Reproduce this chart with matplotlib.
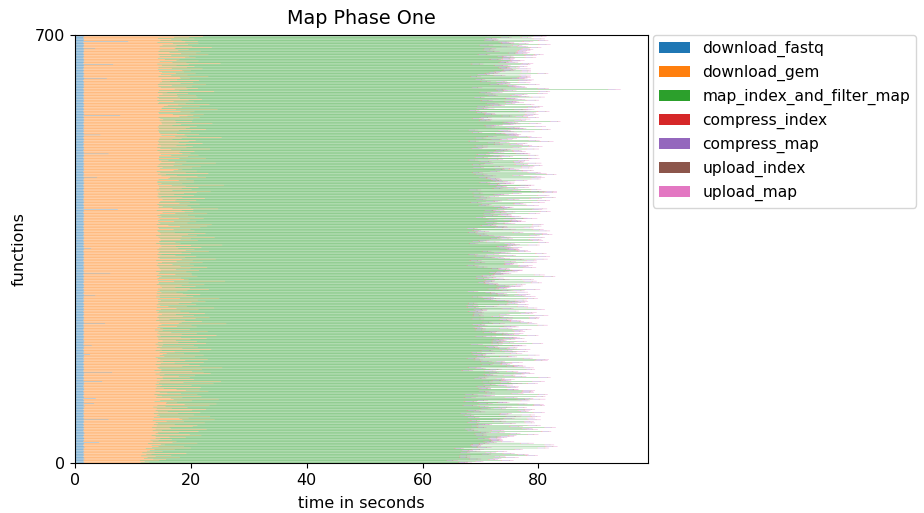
import numpy as np
import matplotlib
matplotlib.use("Agg")
import matplotlib.pyplot as plt

plt.rcParams["font.size"] = 11.5

stages = ["download_fastq", "download_gem", "map_index_and_filter_map",
          "compress_index", "compress_map", "upload_index", "upload_map"]
stage_colors = ["tab:blue", "tab:orange", "tab:green", "tab:red",
                "tab:purple", "tab:brown", "tab:pink"]

# Per-function stage durations in tenths of a second (function 0 first).
download_fastq = [
    15,16,15,14,16,15,17,15,16,15,14,15,16,15,15,16,14,15,16,15,
    15,14,16,15,15,17,15,16,14,15,15,16,15,42,15,14,16,15,15,16,
    16,15,15,14,15,16,15,15,17,15,16,15,14,15,16,15,15,16,15,14,
    15,16,15,15,14,16,15,15,16,15,15,58,15,16,14,15,15,16,15,15,
    14,15,16,15,15,16,15,14,15,16,15,15,17,15,15,16,14,33,15,16,
    15,15,16,14,15,36,15,16,15,15,14,15,16,15,15,16,15,14,15,16,
    16,15,15,16,15,14,15,15,16,15,15,16,15,47,14,16,15,15,16,15,
    15,14,15,16,15,15,16,15,64,15,14,15,16,15,15,16,15,15,14,15,
    15,16,15,15,14,16,15,15,16,15,15,14,16,15,15,16,15,26,16,14,
    15,15,16,15,15,14,15,16,15,15,16,15,29,15,14,16,15,15,16,15,
    16,15,14,15,16,15,15,16,15,15,14,15,16,15,15,16,15,14,15,15,
    15,16,15,15,16,14,15,15,52,15,16,15,15,14,15,16,15,15,16,15,
    14,15,16,15,15,16,15,14,15,16,15,15,16,15,14,15,16,15,15,16,
    15,15,14,16,15,15,16,15,15,14,16,15,15,35,15,16,15,14,15,16,
    16,15,15,16,15,14,15,16,15,15,16,15,15,14,15,16,15,15,16,15,
    15,14,16,15,15,16,15,15,14,15,61,15,16,15,15,14,16,15,15,16,
    15,16,15,14,15,16,15,15,16,15,15,14,15,16,15,15,16,15,14,15,
    16,15,15,16,15,15,14,15,16,15,28,15,15,16,15,14,15,16,15,15,
    15,15,16,15,14,15,16,15,15,16,15,15,14,16,15,15,16,15,15,14,
    15,16,15,15,16,15,14,15,15,16,15,15,16,15,14,15,16,15,15,16,
    14,15,15,16,15,15,16,15,15,14,15,16,15,15,74,15,15,16,15,15,
    15,16,15,14,15,16,15,15,16,15,15,14,15,16,15,15,16,15,14,15,
    16,15,15,16,15,15,14,15,16,15,15,16,15,15,14,15,16,15,15,16,
    15,14,16,15,15,16,15,38,15,14,16,15,15,16,15,15,14,15,16,15,
    15,16,15,15,14,15,16,15,15,16,15,15,14,16,15,15,16,15,15,14,
    16,15,15,16,15,58,15,15,16,15,14,15,16,15,15,16,15,15,14,15,
    15,15,16,15,14,15,16,15,15,16,15,15,14,15,16,15,44,15,15,16,
    14,15,16,15,15,16,15,14,15,16,15,15,16,15,14,15,16,15,15,16,
    15,16,15,15,16,15,15,14,78,15,16,15,15,16,15,14,15,15,16,15,
    15,14,15,16,15,15,16,15,15,14,15,16,15,15,16,15,15,14,16,15,
    16,15,15,14,15,16,15,15,16,15,15,15,14,15,16,15,15,16,15,15,
    15,15,16,15,15,14,16,15,55,16,15,15,14,15,16,15,15,16,15,14,
    15,16,15,15,14,15,16,15,15,16,15,66,15,14,15,16,15,15,16,15,
    16,15,14,15,16,15,15,16,15,15,14,15,16,15,15,16,15,35,15,14,
    15,15,16,15,15,16,15,14,15,92,15,15,16,15,15,14,15,16,15,15,
]

download_gem = [
    98,112,105,131,96,142,118,104,165,110,125,99,150,108,117,176,102,122,135,109,
    114,158,121,107,185,116,129,172,118,140,133,110,196,126,119,161,128,115,152,123,
    131,176,148,125,203,116,183,129,122,164,127,198,120,135,211,124,150,147,118,189,
    126,195,121,157,129,208,124,173,142,119,226,127,165,180,122,131,218,125,190,129,
    164,121,200,128,145,123,187,212,126,151,179,120,139,217,127,173,230,124,143,160,
    122,187,131,156,233,129,170,124,203,135,128,196,121,168,144,130,215,125,176,199,
    159,138,124,201,132,127,186,135,123,224,130,171,126,205,133,148,190,137,125,183,
    136,165,192,130,139,124,218,131,158,187,135,122,203,134,129,238,127,170,132,200,
    124,181,133,157,208,136,126,175,131,214,128,167,123,192,139,130,207,125,172,144,
    131,157,199,135,124,221,132,169,126,197,134,129,176,137,125,210,163,128,194,136,
    158,184,130,212,127,168,133,125,229,131,170,195,126,151,129,213,136,124,183,132,
    137,126,195,161,128,187,134,246,127,169,130,204,125,176,148,129,193,217,126,171,
    130,190,158,135,209,126,182,131,167,124,198,133,159,225,127,178,145,132,126,193,
    164,129,187,127,210,133,196,128,166,235,130,125,189,157,131,200,126,172,134,159,
    126,179,131,215,128,184,135,157,193,132,168,126,208,130,181,129,156,244,127,173,
    181,128,167,130,196,133,126,187,159,129,140,131,176,125,199,134,158,184,131,212,
    129,166,190,127,153,182,128,205,134,160,188,126,169,227,131,175,127,194,132,158,
    133,127,185,168,129,216,132,176,126,191,150,130,203,158,134,186,239,131,167,125,
    158,131,129,197,134,167,184,132,226,128,169,195,126,179,133,210,130,157,128,192,
    127,183,155,130,200,128,167,213,146,125,221,132,178,129,195,156,127,183,131,206,
    165,129,192,133,127,180,131,213,158,137,174,188,126,169,130,232,153,128,185,136,
    130,178,127,201,165,129,183,132,157,194,136,161,209,128,170,134,126,190,157,129,
    172,128,195,131,219,153,127,186,168,130,198,129,176,152,243,128,169,134,127,189,
    127,191,163,129,177,145,211,126,196,135,160,142,128,214,176,132,127,195,154,170,
    163,130,187,136,128,202,154,129,170,131,228,157,178,133,146,130,128,211,165,131,
    129,180,151,197,133,127,184,165,130,191,128,167,150,218,132,176,127,188,134,160,
    176,128,204,130,165,181,127,193,153,129,169,131,239,158,177,134,145,199,132,160,
    131,185,129,164,128,210,176,131,183,127,195,153,129,168,136,222,158,134,187,130,
    158,136,189,132,199,129,165,180,126,207,153,130,184,128,167,192,131,159,230,134,
    135,170,138,199,145,163,216,128,176,131,190,154,127,181,203,130,166,128,195,162,
    129,194,161,137,180,143,128,225,164,130,179,157,198,133,176,129,187,151,211,128,
    167,131,188,149,135,200,160,134,127,182,166,129,216,151,178,133,193,158,135,174,
    130,169,185,128,206,152,177,129,191,134,160,130,127,237,153,176,131,198,159,140,
    164,128,176,193,130,182,151,214,129,168,195,148,128,202,163,130,181,137,159,222,
    131,187,159,136,180,153,198,128,175,120,132,169,150,191,128,183,156,205,130,168,
]

map_index_and_filter_map = [
    548,536,571,590,529,556,545,603,561,538,585,549,612,640,570,546,592,528,577,553,
    539,586,547,532,598,561,541,624,550,655,536,571,557,543,601,530,575,589,548,556,
    567,538,553,594,529,560,582,545,612,537,556,591,543,568,551,534,605,647,561,546,
    543,570,557,531,596,552,538,587,563,548,540,535,559,583,542,597,553,530,566,588,
    556,529,574,545,608,537,562,549,581,533,570,596,541,558,527,603,520,539,575,552,
    534,567,548,592,540,611,556,531,577,545,563,588,536,570,549,624,542,558,581,530,
    571,543,560,535,597,552,528,583,566,540,609,547,561,537,590,555,533,574,548,602,
    545,579,532,563,551,618,538,569,540,542,557,530,560,566,547,520,536,559,611,541,
    562,537,588,549,530,575,558,603,541,567,533,592,554,540,578,546,560,535,563,550,
    538,569,547,584,561,532,599,545,572,536,557,614,549,531,580,563,541,593,552,568,
    553,540,577,531,606,556,543,568,535,591,560,547,582,538,571,529,604,552,566,544,
    580,546,535,563,549,597,537,520,541,585,557,532,610,548,569,539,576,551,594,533,
    542,588,558,537,545,546,580,533,566,551,582,540,561,540,535,570,547,529,589,556,
    567,534,551,603,540,578,548,563,531,530,556,545,571,537,612,549,575,541,559,586,
    536,561,590,547,569,532,582,554,540,607,545,573,538,562,591,551,534,515,565,543,
    574,550,538,566,597,543,561,590,548,579,535,569,552,588,541,604,557,533,572,546,
    549,583,561,535,572,545,598,553,539,566,575,541,575,550,584,532,562,591,544,570,
    561,537,594,548,579,534,556,571,603,542,565,588,537,553,580,546,527,599,559,540,
    627,563,541,577,548,601,536,569,552,586,540,574,558,611,545,567,532,583,550,595,
    544,590,567,532,558,581,547,560,539,571,553,593,536,564,548,579,609,541,566,552,
    578,548,535,602,563,541,587,555,532,572,550,598,566,538,583,545,560,593,534,570,
    551,584,559,543,576,537,590,562,549,589,541,571,560,554,625,566,545,592,558,578,
    566,543,597,665,552,587,539,585,561,575,546,582,535,600,520,571,544,589,556,536,
    583,555,540,572,594,548,567,533,575,557,579,656,546,565,590,538,575,552,601,563,
    547,592,568,536,580,553,621,541,573,559,538,586,564,549,604,533,570,557,590,545,
    572,539,556,570,545,584,560,532,577,550,612,543,568,545,537,563,553,580,541,596,
    558,580,541,567,553,606,536,575,549,589,562,544,530,537,571,600,554,539,578,565,
    540,571,593,552,536,578,559,615,545,566,583,538,574,555,598,547,569,589,618,551,
    585,549,563,538,565,556,580,542,570,555,537,562,577,548,615,559,535,582,530,544,
    553,596,541,574,560,537,545,566,551,609,544,571,558,583,539,597,562,547,576,590,
    567,542,582,556,603,539,575,560,548,594,726,553,586,537,568,610,545,579,557,572,
    546,589,560,535,577,551,598,542,570,564,583,538,540,556,573,547,590,533,565,581,
    579,553,571,596,544,566,537,603,559,585,548,572,541,520,563,552,588,539,576,560,
    556,595,547,568,583,540,609,562,551,577,538,600,566,545,586,558,573,534,597,549,
    588,561,579,547,604,567,553,593,541,560,559,615,546,584,565,537,598,570,552,582,
]

compress_index = [
    2,1,2,2,1,3,2,1,2,2,1,2,3,2,1,2,2,1,2,2,
    1,2,2,3,1,2,1,2,2,1,3,2,2,1,2,2,1,2,3,1,
    2,2,1,2,3,1,2,2,1,2,2,3,1,2,2,1,2,1,2,3,
    1,2,3,2,1,2,2,1,2,3,2,1,2,2,1,2,3,2,1,2,
    2,1,2,1,2,3,2,2,1,2,1,2,2,3,2,1,2,2,1,2,
    3,2,1,2,2,1,2,3,2,1,2,2,1,2,3,2,2,1,2,1,
    2,2,3,1,2,2,1,2,2,3,1,2,2,1,2,2,3,2,1,2,
    1,2,2,2,3,1,2,1,2,2,2,3,1,2,2,1,2,2,3,2,
    2,3,1,2,2,1,2,2,3,1,2,2,1,2,2,3,1,2,2,1,
    2,1,2,3,2,2,1,2,1,2,3,2,2,1,2,1,2,3,2,2,
    1,2,2,1,2,3,2,1,2,2,1,2,3,2,2,1,2,2,1,3,
    2,2,1,2,3,2,1,2,2,1,2,2,3,1,2,2,1,2,2,3,
    3,1,2,2,1,2,2,3,2,1,2,1,2,2,3,2,1,2,2,1,
    2,2,3,2,1,2,2,1,2,3,2,2,1,2,1,2,3,2,1,2,
    1,2,2,1,2,2,3,2,1,2,2,1,2,3,2,1,2,2,2,1,
    2,3,2,1,2,1,2,2,3,2,1,2,2,1,2,3,2,1,2,2,
    2,1,2,2,3,2,1,2,2,1,2,3,2,2,1,2,2,1,3,2,
    1,2,3,2,1,2,2,3,1,2,2,1,2,2,3,1,2,2,1,2,
    2,2,1,2,2,3,1,2,2,2,1,2,3,2,1,2,2,3,2,1,
    3,2,2,1,2,1,2,2,3,1,2,2,1,2,2,3,2,1,2,2,
    2,1,2,3,2,2,1,2,1,2,3,2,1,2,2,1,2,2,3,2,
    1,2,2,1,3,2,2,1,2,2,1,2,3,2,2,1,2,3,1,2,
    2,2,3,2,1,2,1,2,2,3,2,1,2,2,1,2,3,2,2,1,
    2,1,2,2,2,3,2,1,2,1,2,2,3,1,2,2,1,2,2,3,
    1,3,2,1,2,2,1,2,3,2,2,1,2,2,1,3,2,2,1,2,
    2,2,1,2,3,1,2,2,1,2,3,2,1,2,2,2,1,2,3,2,
    3,2,2,1,2,2,3,1,2,2,1,2,2,3,2,1,2,1,2,2,
    2,1,2,2,1,2,2,3,2,1,2,3,2,1,2,2,3,2,1,2,
    1,2,3,2,2,1,2,2,1,3,2,2,1,2,3,2,1,2,2,1,
    2,2,1,2,3,2,1,2,2,1,2,2,3,2,1,2,2,1,3,2,
    2,3,2,1,2,2,1,3,2,2,1,2,2,1,2,3,2,2,1,2,
    1,2,2,3,1,2,2,1,2,2,3,2,1,2,2,1,2,3,2,2,
    2,2,1,2,2,3,2,2,1,2,2,1,3,2,2,1,2,2,1,3,
    3,1,2,2,1,2,3,2,2,1,2,2,1,2,3,2,2,1,2,2,
    2,2,2,1,3,2,1,2,2,3,1,2,2,2,1,2,3,1,2,2,
]

compress_map = [
    8,10,7,12,9,6,11,8,13,9,7,10,12,8,9,11,6,10,8,12,
    9,7,11,8,10,13,7,9,12,8,10,6,11,9,14,8,10,7,12,9,
    11,8,9,13,7,10,8,12,9,11,6,10,8,13,9,7,11,10,8,12,
    7,12,10,8,11,9,14,8,10,7,12,9,11,8,10,13,7,9,12,8,
    10,8,13,9,7,11,8,10,12,9,8,11,7,10,14,9,8,12,10,7,
    12,9,8,11,10,7,13,9,8,12,10,8,11,9,7,12,10,8,13,9,
    8,11,9,7,12,10,8,13,9,11,7,10,9,12,8,11,10,7,9,13,
    9,10,12,8,7,11,9,10,13,8,12,9,7,11,10,8,12,9,11,7,
    11,7,9,12,10,8,11,9,7,13,10,8,12,9,11,7,10,13,8,10,
    7,12,10,9,13,8,10,11,9,7,12,10,8,11,9,12,7,10,9,11,
    10,9,7,11,8,12,10,7,13,9,11,8,10,12,9,7,11,9,13,8,
    12,8,11,10,9,7,12,9,10,11,8,13,9,7,10,12,8,11,9,10,
    8,13,9,7,11,10,8,12,9,10,7,11,13,8,10,9,12,8,10,11,
    10,7,12,9,8,13,10,9,11,8,12,7,10,9,11,13,8,10,7,12,
    9,11,8,13,10,7,9,12,8,11,10,9,7,12,10,8,11,13,9,7,
    13,9,10,8,12,9,11,7,10,12,9,8,11,10,7,12,9,10,8,11,
    8,10,12,9,7,11,10,13,8,9,11,10,7,12,9,8,10,11,13,9,
    11,8,9,12,10,8,7,11,12,9,10,13,8,9,11,7,12,10,9,8,
    9,12,10,7,11,13,9,8,10,12,7,9,11,8,10,12,9,7,11,10,
    7,10,11,9,8,12,10,9,13,7,11,10,8,12,9,10,7,13,9,11,
    12,9,8,10,13,7,11,9,10,8,12,9,11,7,10,13,9,8,12,10,
    10,11,9,12,8,10,9,13,7,11,10,8,12,9,11,7,10,12,8,9,
    8,9,13,10,11,7,12,8,10,9,13,11,8,10,7,12,9,11,10,8,
    11,12,8,9,10,13,8,11,7,12,9,10,11,8,13,9,10,7,12,9,
    9,8,10,12,7,11,9,10,12,8,11,7,10,13,9,8,12,10,9,11,
    10,13,9,8,11,9,12,7,10,11,8,12,9,10,11,8,7,13,10,9,
    12,7,11,10,9,12,8,10,13,9,7,11,10,8,12,9,11,10,7,13,
    8,11,10,12,9,8,13,9,11,7,10,12,8,11,9,10,12,7,11,9,
    11,10,7,9,12,10,9,11,8,12,10,9,13,7,11,10,8,12,9,10,
    9,12,11,8,10,13,7,12,9,10,8,11,9,12,10,7,13,9,11,8,
    10,8,12,11,7,9,12,10,8,13,11,9,10,8,12,11,9,7,10,12,
    13,9,10,7,11,12,8,9,11,10,12,8,7,11,9,13,10,11,8,9,
    8,10,9,12,13,8,11,10,7,9,12,10,11,9,8,12,10,9,13,11,
    11,9,12,10,8,11,10,7,12,11,9,13,10,8,11,9,12,10,7,10,
    9,11,8,13,10,12,9,11,10,8,13,9,12,10,9,11,8,12,10,9,
]

upload_index = [
    2,3,1,2,2,3,2,1,2,3,2,2,1,3,2,2,3,1,2,2,
    3,2,2,1,3,2,2,3,1,2,2,3,2,2,1,3,2,2,3,2,
    2,2,3,2,1,2,3,2,2,4,2,1,3,2,2,3,1,2,2,3,
    1,3,2,2,3,2,1,2,3,2,2,3,2,1,2,3,2,2,3,1,
    2,2,1,3,2,2,3,2,2,1,3,2,2,3,2,1,2,3,2,2,
    3,1,2,2,3,2,2,1,3,2,2,2,3,1,2,2,3,2,1,3,
    2,3,2,1,2,3,2,2,3,1,2,3,2,2,1,3,2,2,3,2,
    2,2,3,2,2,1,3,2,2,3,2,1,2,3,2,2,1,3,2,2,
    3,2,1,3,2,2,2,3,1,2,3,2,2,1,3,2,2,3,2,1,
    1,2,3,2,3,2,1,2,2,3,2,2,3,1,2,2,3,2,2,3,
    2,3,2,2,1,3,2,3,2,1,2,2,3,2,2,3,1,2,3,2,
    2,1,3,2,2,2,3,1,2,3,2,3,1,2,2,2,3,2,1,2,
    3,2,2,1,3,2,2,3,2,2,1,3,2,2,3,1,2,2,3,2,
    2,2,3,2,2,1,3,2,2,3,2,2,1,3,2,2,3,2,2,1,
    1,3,2,3,2,2,1,2,3,2,2,3,2,1,2,3,2,2,1,3,
    2,2,1,2,3,2,3,2,1,2,3,2,2,3,2,1,2,3,2,2,
    3,2,2,3,1,2,2,2,3,2,1,2,3,2,2,3,2,1,2,3,
    2,1,3,2,2,3,2,1,2,3,2,2,1,3,2,2,3,2,2,1,
    2,3,2,2,1,2,3,2,2,1,3,2,2,2,3,1,2,3,2,2,
    1,2,2,3,2,3,1,2,3,2,2,1,3,2,2,2,3,2,1,2,
    3,2,1,2,2,3,2,2,1,3,2,2,3,2,1,2,2,3,2,2,
    2,2,3,1,2,2,3,2,2,2,1,3,2,2,3,2,1,2,3,2,
    2,3,2,2,3,1,2,2,3,2,2,1,2,3,2,2,3,1,2,2,
    1,2,3,2,2,2,1,3,2,2,3,2,2,1,3,2,2,2,3,1,
    3,2,2,1,3,2,2,3,2,1,2,2,3,2,2,1,3,2,2,3,
    2,2,1,3,2,2,3,1,2,3,2,2,2,3,1,2,2,3,2,2,
    2,1,3,2,2,3,2,2,1,2,3,2,2,1,3,2,3,2,2,1,
    3,2,2,2,1,3,2,2,3,2,1,2,3,2,2,3,2,1,2,2,
    2,3,2,1,2,2,3,2,2,3,2,1,2,2,3,2,2,3,1,2,
    1,2,2,3,2,3,2,1,2,2,3,2,2,3,2,1,2,2,3,2,
    2,2,3,2,1,2,2,3,2,2,1,3,2,2,2,3,1,2,2,3,
    3,1,2,2,3,2,2,2,1,3,2,2,3,2,1,2,3,2,2,2,
    2,2,2,3,2,1,3,2,2,1,2,3,2,2,3,2,2,1,3,2,
    2,3,1,2,2,3,2,2,3,2,2,1,3,2,2,2,3,2,1,2,
    1,2,3,2,2,2,3,1,2,2,3,2,1,3,2,2,2,3,2,2,
]

upload_map = [
    5,7,4,6,8,5,6,4,7,5,9,6,5,7,4,6,8,5,6,7,
    6,4,7,5,6,8,5,7,4,6,5,7,9,5,6,4,7,6,5,8,
    7,5,6,8,4,6,7,5,6,9,5,4,7,6,8,5,6,7,4,6,
    4,6,8,5,7,5,4,6,8,5,7,6,5,4,7,9,6,5,7,5,
    6,8,5,7,4,6,9,5,7,6,4,8,6,5,7,6,5,8,4,7,
    5,4,7,6,9,5,6,8,4,7,6,5,7,9,5,6,4,7,6,8,
    7,6,5,4,6,8,5,6,7,5,8,4,6,7,5,9,6,5,8,4,
    6,7,4,8,5,6,7,4,6,8,5,7,5,6,4,7,8,6,5,6,
    4,5,8,6,7,4,6,9,5,6,7,5,8,4,6,5,7,6,9,5,
    8,6,5,7,4,7,5,6,8,4,6,7,5,8,6,4,6,7,5,7,
    5,7,6,4,8,6,5,7,4,6,9,5,7,6,5,8,4,6,7,5,
    7,4,6,9,5,7,6,5,8,5,4,6,7,5,9,6,5,4,8,6,
    6,8,5,6,7,4,8,6,5,7,6,9,4,6,5,7,6,8,5,4,
    4,6,7,5,6,8,5,4,7,6,5,7,8,5,6,4,9,5,7,6,
    7,5,4,8,6,5,7,6,9,4,7,5,6,8,5,7,4,6,5,8,
    5,9,6,5,4,7,6,8,5,6,4,8,5,7,6,5,7,4,6,7,
    6,5,8,7,5,6,4,7,6,8,5,6,4,7,9,5,6,7,5,4,
    8,6,5,4,7,9,6,5,7,5,8,4,6,5,7,6,4,8,6,5,
    5,7,6,8,5,4,7,6,4,7,6,5,9,6,4,8,5,6,7,6,
    4,6,9,5,6,7,5,4,8,6,5,7,6,4,8,5,7,6,5,9,
    7,5,6,4,8,6,5,7,6,9,4,6,5,8,6,7,5,4,6,7,
    6,8,4,7,5,6,9,5,4,7,6,8,5,6,4,7,6,5,8,5,
    5,4,7,6,9,5,6,7,5,4,8,6,7,5,6,4,9,6,5,7,
    8,6,5,7,4,6,7,5,8,6,5,4,7,9,5,6,5,8,4,6,
    4,7,6,5,6,8,4,6,7,5,9,6,5,4,7,6,8,5,6,7,
    6,5,8,4,7,5,6,9,5,6,4,7,6,8,5,4,7,6,9,5,
    7,6,4,8,5,7,5,6,4,8,6,5,9,6,7,5,6,4,7,6,
    5,8,6,5,6,4,7,5,9,6,7,4,6,5,8,6,5,7,4,8,
    6,4,7,9,5,6,8,4,6,5,7,6,4,8,5,7,6,9,5,6,
    9,6,5,6,7,4,6,7,5,8,4,6,7,5,6,8,4,6,7,5,
    4,7,6,5,8,6,5,4,7,6,9,5,6,7,4,6,8,5,6,7,
    6,5,8,7,4,7,6,5,9,4,6,7,5,6,8,5,4,7,6,5,
    7,6,4,5,6,9,5,7,6,5,8,4,6,7,5,6,7,5,8,4,
    5,8,7,6,5,4,7,6,4,7,5,6,9,5,6,7,5,8,4,6,
    6,4,5,8,7,6,4,9,5,6,7,5,4,6,8,5,6,7,5,8,
]

series = [download_fastq, download_gem, map_index_and_filter_map,
          compress_index, compress_map, upload_index, upload_map]
n_functions = len(download_fastq)
for s in series:
    assert len(s) == n_functions, len(s)

durations = np.array(series, dtype=float) / 10.0   # seconds
rows = np.arange(n_functions)

fig = plt.figure(figsize=(9.24, 5.13), dpi=100)
ax = fig.add_axes([0.0812, 0.0975, 0.6201, 0.8343])

left = np.zeros(n_functions)
for name, color, dur in zip(stages, stage_colors, durations):
    ax.barh(rows + 0.5, dur, left=left, height=0.5, color=color,
            linewidth=0, snap=False, label=name)
    left += dur

ax.set_ylim(0, 700)
ax.set_yticks([0, 700])
ax.set_xlabel("time in seconds", labelpad=6)
ax.set_ylabel("functions", labelpad=6)
ax.set_title("Map Phase One", pad=8)
ax.legend(loc="upper left", bbox_to_anchor=(1.008, 1.0), borderaxespad=0.0,
          fontsize=11.2)

fig.savefig("out.png", dpi=100)
